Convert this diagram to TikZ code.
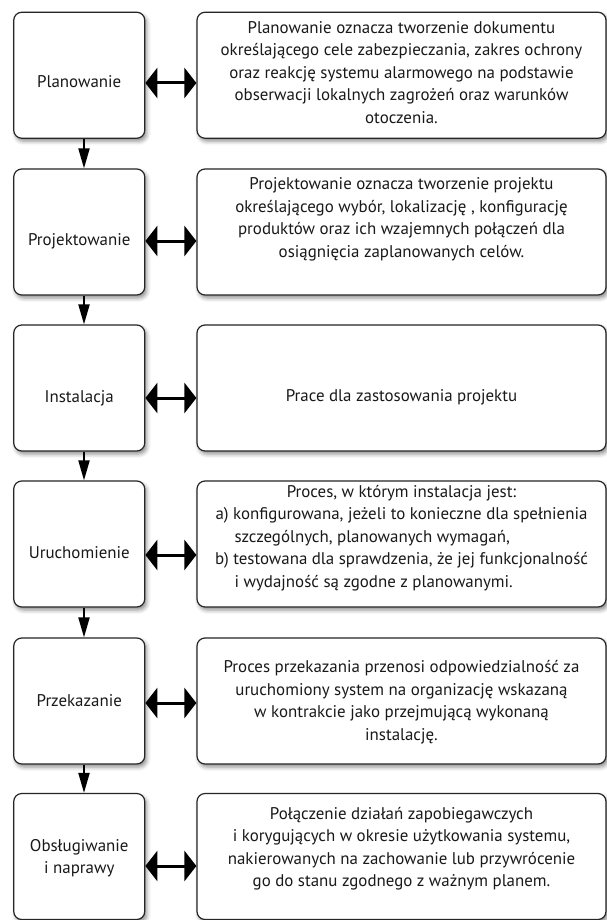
\documentclass[tikz,border=0pt]{standalone}
\usepackage{fontspec}
\usepackage{calc}
\setmainfont{PT Sans}
\usetikzlibrary{arrows.meta,shadows.blur}

\tikzset{
  box/.style={draw=black!85, line width=1.2pt, rounded corners=8pt, fill=white,
    blur shadow={shadow xshift=2pt, shadow yshift=-3pt, shadow blur radius=4pt, shadow opacity=45}},
  stage/.style={box, minimum width=131pt, minimum height=126pt},
  info/.style={box, minimum width=409pt, minimum height=126pt},
  txt/.style={font=\fontsize{16.9}{22.5}\selectfont, align=center, inner sep=0pt, text=black!90},
  next/.style={line width=2pt, -{Triangle[length=20pt,width=11pt]}},
  link/.style={line width=3pt, {Triangle[length=12pt,width=30pt]}-{Triangle[length=12pt,width=30pt]}}
}

\begin{document}
\begin{tikzpicture}[x=1pt,y=-1pt]
  \useasboundingbox (0,0) rectangle (607,920);

  % left column
  \node[stage] (plan)  at (79.25,75.25) {};
  \node[stage] (proj)  at (79.25,232)   {};
  \node[stage] (inst)  at (79.25,388)   {};
  \node[stage] (uruch) at (79.25,544)   {};
  \node[stage] (przek) at (79.25,701)   {};
  \node[stage] (obsl)  at (79.25,856.5) {};

  % right column
  \node[info] (planD)  at (401.5,75.25) {};
  \node[info] (projD)  at (401.5,232)   {};
  \node[info] (instD)  at (401.5,388)   {};
  \node[info] (uruchD) at (401.5,544)   {};
  \node[info] (przekD) at (401.5,701)   {};
  \node[info] (obslD)  at (401.5,856.5) {};

  \node[txt] (planT)  at (79.25,82)  {Planowanie};
  \node[txt] (projT)  at (79.25,241) {Projektowanie};
  \node[txt] (instT)  at (79.25,398) {Instalacja};
  \node[txt] (uruchT) at (79.25,553) {Uruchomienie};
  \node[txt] (przekT) at (79.25,701) {Przekazanie};
  \node[txt] (obslT)  at (79.25,858) {Obsługiwanie\\i naprawy};

  \node[txt] (planI) at (401.5,72.5) {Planowanie oznacza tworzenie dokumentu\\
    określającego cele zabezpieczania, zakres ochrony\\
    oraz reakcję systemu alarmowego na podstawie\\
    obserwacji lokalnych zagrożeń oraz warunków\\
    otoczenia.};
  \node[txt] (projI) at (401.5,219.5) {Projektowanie oznacza tworzenie projektu\\
    określającego wybór, lokalizację , konfigurację\\
    produktów oraz ich wzajemnych połączeń dla\\
    osiągnięcia zaplanowanych celów.};
  \node[txt] (instI) at (401.5,397) {Prace dla zastosowania projektu};
  \node[txt] (uruchI) at (401.5,538) {Proces, w którym instalacja jest:\\
    a) konfigurowana, jeżeli to konieczne dla spełnienia\\
    \makebox[\widthof{a) konfigurowana, jeżeli to konieczne dla spełnienia}][l]{\hspace{19pt}szczególnych, planowanych wymagań,}\\
    b) testowana dla sprawdzenia, że jej funkcjonalność\\
    \makebox[\widthof{a) konfigurowana, jeżeli to konieczne dla spełnienia}][l]{\hspace{19pt}i wydajność są zgodne z planowanymi.}};
  \node[txt] (przekI) at (401.5,702) {Proces przekazania przenosi odpowiedzialność za\\
    uruchomiony system na organizację wskazaną\\
    w kontrakcie jako przejmującą wykonaną\\
    instalację.};
  \node[txt] (obslI) at (401.5,848.5) {Połączenie działań zapobiegawczych\\
    i korygujących w okresie użytkowania systemu,\\
    nakierowanych na zachowanie lub przywrócenie\\
    go do stanu zgodnego z ważnym planem.};

  % flow down
  \draw[next] ([xshift=4.75pt]plan.south)  -- ([xshift=4.75pt]proj.north);
  \draw[next] ([xshift=4.75pt]proj.south)  -- ([xshift=4.75pt]inst.north);
  \draw[next] ([xshift=4.75pt]inst.south)  -- ([xshift=4.75pt]uruch.north);
  \draw[next] ([xshift=4.75pt]uruch.south) -- ([xshift=4.75pt]przek.north);
  \draw[next] ([xshift=4.75pt]przek.south) -- ([xshift=4.75pt]obsl.north);

  % links to descriptions
  \draw[link] ([yshift=-1pt]planT -| plan.east)   -- ([yshift=-1pt]planT -| planD.west);
  \draw[link] (projT -| proj.east)   -- (projT -| projD.west);
  \draw[link] (instT -| inst.east)   -- (instT -| instD.west);
  \draw[link] ([yshift=-2pt]uruchT -| uruch.east) -- ([yshift=-2pt]uruchT -| uruchD.west);
  \draw[link] ([yshift=-2pt]przekT -| przek.east) -- ([yshift=-2pt]przekT -| przekD.west);
  \draw[link] ([yshift=-8pt]obslT -| obsl.east)   -- ([yshift=-8pt]obslT -| obslD.west);
\end{tikzpicture}
\end{document}
